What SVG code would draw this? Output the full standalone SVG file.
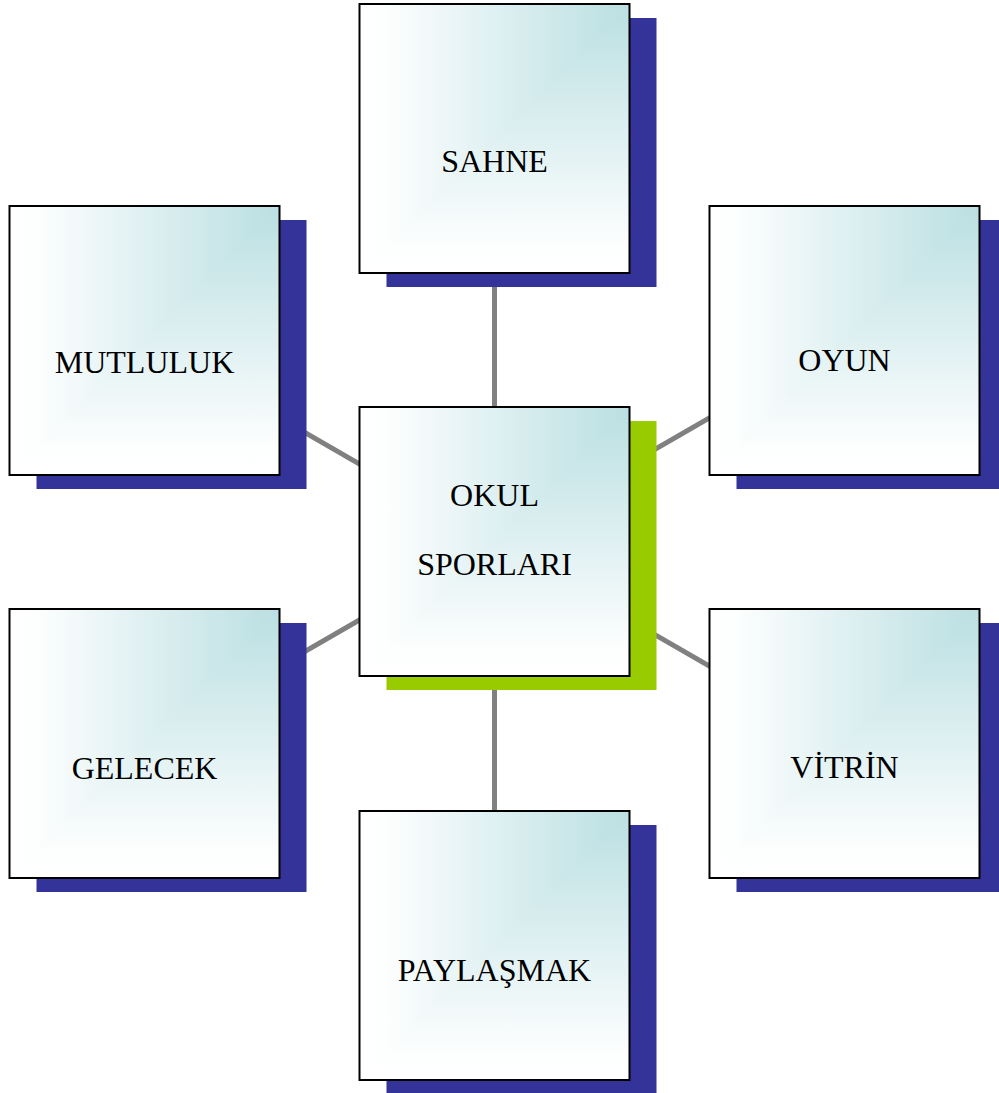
<svg xmlns="http://www.w3.org/2000/svg" width="999" height="1093" viewBox="0 0 999 1093">
<style>
.sh{fill:#333399}
.shg{fill:#99cc00}
.bx{fill:none;stroke:#000;stroke-width:2}
.gh{fill:url(#gh)}
.gv{fill:url(#gv)}
.lbl{font-family:"Liberation Serif","Times New Roman",serif;font-size:32px;fill:#000;text-anchor:middle}
.cn{stroke:#808080;stroke-width:5;fill:none}
</style>
<defs>
<linearGradient id="gh" x1="0" y1="0" x2="1" y2="0">
<stop offset="0" stop-color="#ffffff"/>
<stop offset="0.1" stop-color="#fdfefe"/>
<stop offset="1" stop-color="#badfe2"/>
</linearGradient>
<linearGradient id="gv" x1="0" y1="1" x2="0" y2="0">
<stop offset="0" stop-color="#ffffff"/>
<stop offset="0.1" stop-color="#fdfefe"/>
<stop offset="1" stop-color="#badfe2"/>
</linearGradient>
<g id="card">
<rect class="gv" x="0" y="0" width="270" height="269"/>
<polygon class="gh" points="0,0 270,0 0,269"/>
<rect class="bx" x="0" y="0" width="270" height="269"/>
</g>
</defs>
<rect width="999" height="1093" fill="#fff"/>
<g id="connectors">
<line class="cn" x1="494.5" y1="542" x2="494.5" y2="140"/>
<line class="cn" x1="494.5" y1="542" x2="494.5" y2="945"/>
<line class="cn" x1="494.5" y1="542" x2="144.5" y2="340"/>
<line class="cn" x1="494.5" y1="542" x2="844.5" y2="340"/>
<line class="cn" x1="494.5" y1="542" x2="144.5" y2="744"/>
<line class="cn" x1="494.5" y1="542" x2="844.5" y2="744"/>
</g>
<g id="sahne" transform="translate(359.5,4)">
<rect class="sh" x="27" y="14" width="270" height="269"/>
<use href="#card"/>
<text class="lbl" x="135" y="168">SAHNE</text>
</g>
<g id="mutluluk" transform="translate(9.5,206)">
<rect class="sh" x="27" y="14" width="270" height="269"/>
<use href="#card"/>
<text class="lbl" x="135" y="167">MUTLULUK</text>
</g>
<g id="oyun" transform="translate(709.5,206)">
<rect class="sh" x="27" y="14" width="270" height="269"/>
<use href="#card"/>
<text class="lbl" x="135" y="165">OYUN</text>
</g>
<g id="okul-sporlari" transform="translate(359.5,407)">
<rect class="shg" x="27" y="14" width="270" height="269"/>
<use href="#card"/>
<text class="lbl" x="135" y="99">OKUL</text>
<text class="lbl" x="135" y="168">SPORLARI</text>
</g>
<g id="gelecek" transform="translate(9.5,609)">
<rect class="sh" x="27" y="14" width="270" height="269"/>
<use href="#card"/>
<text class="lbl" x="135" y="170">GELECEK</text>
</g>
<g id="vitrin" transform="translate(709.5,609)">
<rect class="sh" x="27" y="14" width="270" height="269"/>
<use href="#card"/>
<text class="lbl" x="135" y="169">VİTRİN</text>
</g>
<g id="paylasmak" transform="translate(359.5,811)">
<rect class="sh" x="27" y="14" width="270" height="269"/>
<use href="#card"/>
<text class="lbl" x="135" y="170">PAYLAŞMAK</text>
</g>
</svg>
